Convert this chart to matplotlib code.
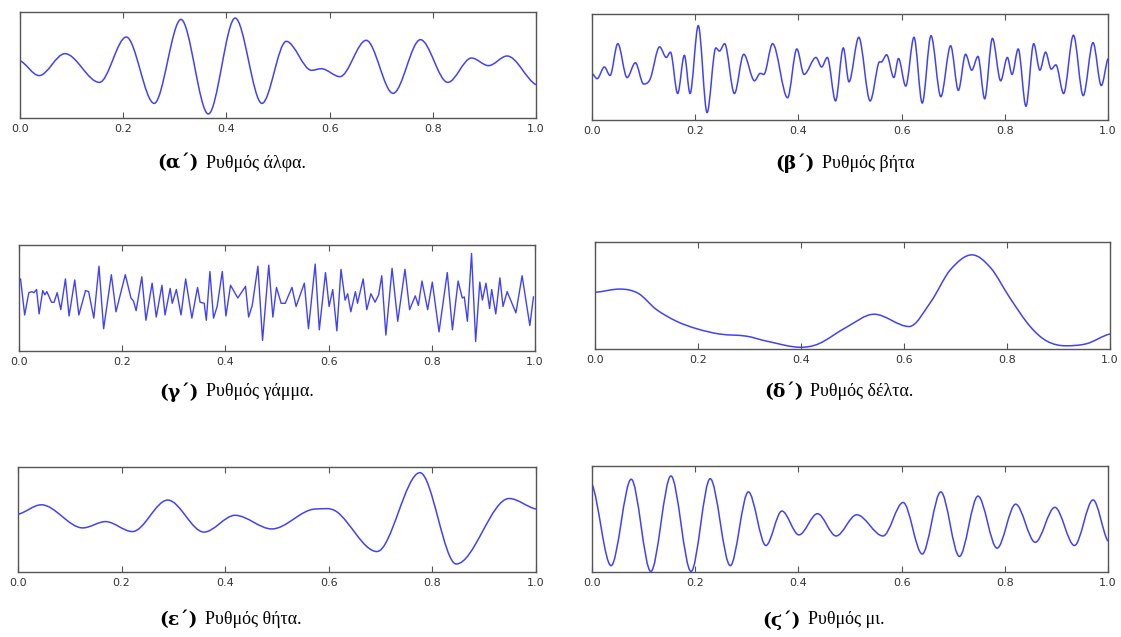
import numpy as np
import matplotlib
matplotlib.use("Agg")
import matplotlib.pyplot as plt
from matplotlib.path import Path
from matplotlib.patches import PathPatch

# extrema / sample points (x in 0..1, y as fraction of axes height)
alpha_x = [0.0, 0.037, 0.087, 0.154, 0.206, 0.26, 0.312, 0.365, 0.417, 0.469, 0.516, 0.565, 0.584,
           0.62, 0.671, 0.723, 0.776, 0.829, 0.875, 0.908, 0.944, 1.0]
alpha_y = [0.54, 0.40, 0.607, 0.336, 0.764, 0.138, 0.93, 0.038, 0.943, 0.138, 0.723, 0.45, 0.465,
           0.39, 0.733, 0.233, 0.739, 0.336, 0.566, 0.494, 0.585, 0.314]

beta_x = [0.0, 0.01, 0.024, 0.035, 0.05, 0.068, 0.084, 0.10, 0.113, 0.131, 0.144, 0.152, 0.166, 0.179,
          0.19, 0.206, 0.223, 0.24, 0.247, 0.257, 0.276, 0.294, 0.315, 0.326, 0.333, 0.35, 0.379, 0.397,
          0.411, 0.434, 0.445, 0.456, 0.472, 0.487, 0.498, 0.517, 0.539, 0.555, 0.562, 0.571, 0.585,
          0.594, 0.608, 0.624, 0.64, 0.657, 0.676, 0.695, 0.71, 0.724, 0.736, 0.748, 0.761, 0.776,
          0.792, 0.805, 0.814, 0.826, 0.841, 0.856, 0.868, 0.879, 0.89, 0.899, 0.914, 0.933, 0.952,
          0.971, 0.987, 1.0]
beta_y = [0.44, 0.39, 0.50, 0.42, 0.72, 0.40, 0.54, 0.34, 0.39, 0.69, 0.59, 0.64, 0.25, 0.61,
          0.25, 0.89, 0.07, 0.68, 0.65, 0.72, 0.25, 0.62, 0.37, 0.44, 0.43, 0.72, 0.21, 0.67,
          0.43, 0.59, 0.50, 0.59, 0.18, 0.68, 0.36, 0.78, 0.18, 0.53, 0.55, 0.615, 0.40,
          0.58, 0.32, 0.78, 0.16, 0.795, 0.22, 0.70, 0.28, 0.62, 0.47, 0.60, 0.20, 0.77,
          0.37, 0.59, 0.43, 0.67, 0.13, 0.72, 0.47, 0.64, 0.48, 0.52, 0.25, 0.80, 0.23,
          0.73, 0.325, 0.58]

gamma_x = [0.0, 0.003, 0.011, 0.019, 0.025, 0.029, 0.034, 0.039, 0.046, 0.05, 0.054, 0.063, 0.068,
           0.074, 0.081, 0.09, 0.097, 0.108, 0.116, 0.129, 0.135, 0.145, 0.155, 0.164, 0.179, 0.188,
           0.206, 0.217, 0.222, 0.227, 0.238, 0.246, 0.258, 0.266, 0.277, 0.283, 0.293, 0.297, 0.305,
           0.314, 0.323, 0.335, 0.346, 0.351, 0.359, 0.363, 0.37, 0.377, 0.384, 0.394, 0.401, 0.41,
           0.424, 0.439, 0.445, 0.452, 0.463, 0.472, 0.484, 0.492, 0.499, 0.508, 0.516, 0.529, 0.537,
           0.553, 0.561, 0.574, 0.582, 0.594, 0.601, 0.608, 0.616, 0.624, 0.632, 0.637, 0.643, 0.652,
           0.656, 0.667, 0.674, 0.682, 0.69, 0.697, 0.703, 0.711, 0.723, 0.734, 0.748, 0.757, 0.768,
           0.774, 0.781, 0.792, 0.801, 0.814, 0.830, 0.84, 0.851, 0.859, 0.863, 0.869, 0.877, 0.885,
           0.893, 0.898, 0.905, 0.912, 0.916, 0.924, 0.932, 0.938, 0.946, 0.963, 0.975, 0.990, 0.997]
gamma_y = [0.67, 0.68, 0.34, 0.55, 0.56, 0.55, 0.58, 0.35, 0.57, 0.53, 0.56, 0.46, 0.46,
           0.55, 0.39, 0.68, 0.33, 0.67, 0.34, 0.57, 0.56, 0.31, 0.80, 0.21, 0.72, 0.37,
           0.72, 0.50, 0.47, 0.38, 0.70, 0.29, 0.64, 0.32, 0.62, 0.34, 0.59, 0.45, 0.58,
           0.34, 0.68, 0.31, 0.60, 0.46, 0.45, 0.29, 0.75, 0.31, 0.42, 0.75, 0.33, 0.62,
           0.50, 0.61, 0.32, 0.43, 0.80, 0.10, 0.81, 0.32, 0.60, 0.45, 0.45, 0.60, 0.42,
           0.64, 0.21, 0.82, 0.20, 0.74, 0.42, 0.58, 0.19, 0.77, 0.48, 0.54, 0.37, 0.56,
           0.45, 0.68, 0.39, 0.54, 0.46, 0.53, 0.71, 0.15, 0.78, 0.28, 0.77, 0.39, 0.52,
           0.43, 0.66, 0.39, 0.65, 0.18, 0.74, 0.20, 0.66, 0.50, 0.51, 0.28, 0.92, 0.09,
           0.65, 0.48, 0.64, 0.40, 0.58, 0.35, 0.69, 0.42, 0.56, 0.36, 0.71, 0.24, 0.51]

delta_x = [0.0, 0.048, 0.084, 0.119, 0.158, 0.197, 0.242, 0.294, 0.332, 0.40, 0.435, 0.487, 0.542,
           0.61, 0.652, 0.69, 0.732, 0.768, 0.806, 0.845, 0.877, 0.913, 0.955, 1.0]
delta_y = [0.53, 0.56, 0.52, 0.37, 0.26, 0.19, 0.14, 0.12, 0.075, 0.016, 0.05, 0.20, 0.325,
           0.21, 0.44, 0.74, 0.88, 0.76, 0.475, 0.21, 0.075, 0.03, 0.05, 0.14]

theta_x = [0.0, 0.045, 0.125, 0.169, 0.221, 0.289, 0.359, 0.419, 0.49, 0.575, 0.615, 0.693, 0.776,
           0.846, 0.948, 1.0]
theta_y = [0.55, 0.64, 0.42, 0.48, 0.385, 0.685, 0.38, 0.54, 0.41, 0.60, 0.575, 0.195, 0.946,
           0.076, 0.70, 0.60]

mu_x = [0.0, 0.037, 0.076, 0.114, 0.153, 0.192, 0.229, 0.268, 0.303, 0.337, 0.368, 0.401, 0.437,
        0.473, 0.513, 0.564, 0.603, 0.64, 0.676, 0.712, 0.748, 0.785, 0.821, 0.859, 0.897, 0.935,
        0.971, 1.0]
mu_y = [0.83, 0.06, 0.875, 0.005, 0.906, 0.005, 0.88, 0.06, 0.756, 0.25, 0.575, 0.35, 0.55,
        0.34, 0.54, 0.34, 0.656, 0.17, 0.756, 0.147, 0.716, 0.225, 0.64, 0.28, 0.61, 0.25,
        0.68, 0.29]

labels = ["(α΄)", "(β΄)", "(γ΄)", "(δ΄)", "(ε΄)", "(ϛ΄)"]
captions = ["Ρυθμός άλφα.", "Ρυθμός βήτα", "Ρυθμός γάμμα.", "Ρυθμός δέλτα.",
            "Ρυθμός θήτα.", "Ρυθμός μι."]
xticks = [0.0, 0.2, 0.4, 0.6, 0.8, 1.0]

W, H = 1121, 637
LINE = "#4242f5"


def smooth_path(xs, ys):
    """Bezier path through the points, flat tangent at the extrema"""
    xs = np.asarray(xs, float)
    ys = np.asarray(ys, float)
    n = len(xs)
    m = np.zeros(n)
    for i in range(n):
        if i == 0:
            m[i] = 0.5 * (ys[1] - ys[0]) / (xs[1] - xs[0])
        elif i == n - 1:
            m[i] = 0.5 * (ys[-1] - ys[-2]) / (xs[-1] - xs[-2])
        elif (ys[i] - ys[i - 1]) * (ys[i + 1] - ys[i]) <= 0:
            m[i] = 0.0
        else:
            m[i] = (ys[i + 1] - ys[i - 1]) / (xs[i + 1] - xs[i - 1])
    verts = [(xs[0], ys[0])]
    codes = [Path.MOVETO]
    for i in range(n - 1):
        d = (xs[i + 1] - xs[i]) / 3.0
        verts += [(xs[i] + d, ys[i] + m[i] * d),
                  (xs[i + 1] - d, ys[i + 1] - m[i + 1] * d),
                  (xs[i + 1], ys[i + 1])]
        codes += [Path.CURVE4] * 3
    return Path(verts, codes)


def make_ax(fig, l, t, r, b):
    ax = fig.add_axes([l / W, 1 - b / H, (r - l) / W, (b - t) / H])
    ax.set_xlim(0, 1)
    ax.set_ylim(0, 1)
    ax.set_yticks([])
    ax.set_xticks(xticks)
    ax.set_xticklabels([f"{v:.1f}" for v in xticks], fontsize=8, color="#333333")
    ax.tick_params(axis="x", direction="in", top=True, length=4, width=0.8,
                   color="#555555", pad=4)
    for s in ax.spines.values():
        s.set_color("#555555")
        s.set_linewidth(1.0)
    return ax


fig = plt.figure(figsize=(W / 100, H / 100), dpi=100)

boxes = [(20, 12, 536, 118), (592, 14, 1108, 120),
         (19, 245, 535, 351), (595, 242, 1110, 349),
         (18, 467, 536, 572), (592, 466, 1108, 572)]
series = [(alpha_x, alpha_y, True), (beta_x, beta_y, True), (gamma_x, gamma_y, False),
          (delta_x, delta_y, True), (theta_x, theta_y, True), (mu_x, mu_y, True)]

for (l, t, r, b), (xs, ys, smooth) in zip(boxes, series):
    ax = make_ax(fig, l, t, r, b)
    if smooth:
        ax.add_patch(PathPatch(smooth_path(xs, ys), fill=False, edgecolor=LINE, lw=1.1))
    else:
        ax.plot(xs, ys, color=LINE, lw=1.0)

# caption: right end of bold label, start of text, row
label_r = [199, 815, 199, 804, 198, 801]
text_x = [206, 822, 206, 810, 205, 808]
rows = [163, 163, 392, 392, 620, 620]
for xr, xt, yy, lab, cap in zip(label_r, text_x, rows, labels, captions):
    fig.text(xr / W, 1 - yy / H, lab, ha="right", va="center", fontsize=13.5,
             fontweight="bold", family=["DejaVu Serif", "Liberation Serif"])
    fig.text(xt / W, 1 - yy / H, cap, ha="left", va="center", fontsize=13,
             family=["Liberation Serif", "DejaVu Serif"])

fig.savefig("out.png", dpi=100)
